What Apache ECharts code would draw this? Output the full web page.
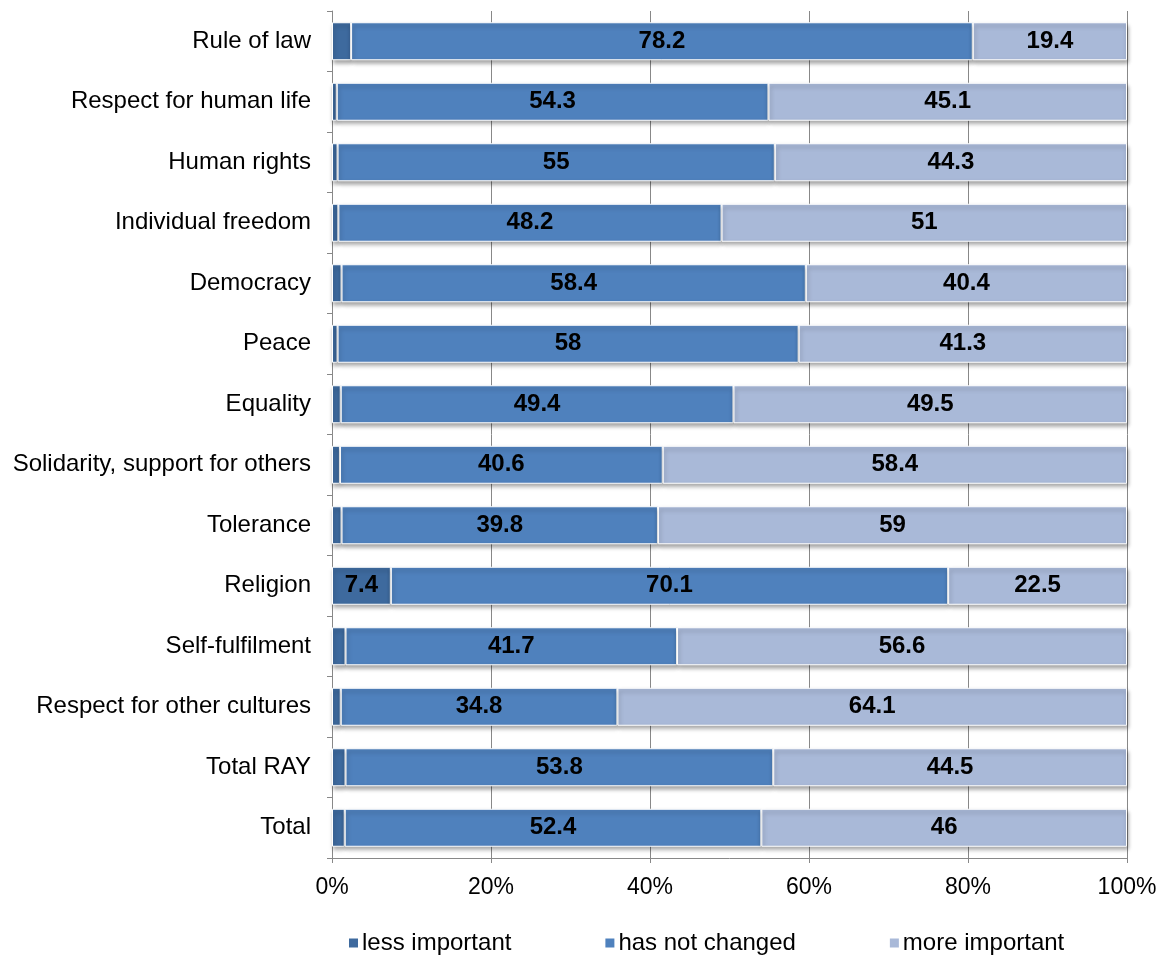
<!DOCTYPE html>
<html>
<head>
<meta charset="utf-8">
<script src="https://cdn.jsdelivr.net/npm/echarts@6/dist/echarts.min.js"></script>
<style>html,body{margin:0;padding:0;background:#fff}#c{width:1165px;height:961px}</style>
</head>
<body>
<div id="c"></div>
<script>
const categories = ["Rule of law","Respect for human life","Human rights","Individual freedom","Democracy","Peace","Equality","Solidarity, support for others","Tolerance","Religion","Self-fulfilment","Respect for other cultures","Total RAY","Total"];
const lessImportant = [2.4,0.6,0.7,0.8,1.2,0.7,1.1,1.0,1.2,7.4,1.7,1.1,1.7,1.6];
const hasNotChanged = [78.2,54.3,55,48.2,58.4,58,49.4,40.6,39.8,70.1,41.7,34.8,53.8,52.4];
const moreImportant = [19.4,45.1,44.3,51,40.4,41.3,49.5,58.4,59,22.5,56.6,64.1,44.5,46];
const xTicks = [0,20,40,60,80,100];

const FONT = '"Liberation Sans", Arial, sans-serif';
const chart = echarts.init(document.getElementById('c'), null, {renderer:'canvas'});
function mk(name, data, color){
  return {
    name, type:'bar', stack:'s', data, barWidth:38,
    itemStyle:{color, borderColor:'#fff', borderWidth:1, shadowColor:'rgba(0,0,0,0.35)', shadowBlur:4, shadowOffsetY:3, shadowOffsetX:1},
    label:{show:true, position:'inside', fontFamily:FONT, fontWeight:'bold', fontSize:24, color:'#000',
      formatter:p => p.value >= 5 ? String(p.value) : ''},
    emphasis:{disabled:true}
  };
}
chart.setOption({
  animation:false,
  grid:{left:332, right:38, top:11, bottom:103, containLabel:false},
  legend:{bottom:1, left:342, itemWidth:11, itemHeight:11, itemGap:92, icon:'rect',
    textStyle:{fontFamily:FONT, fontSize:24, color:'#000', padding:[0,0,0,-2]},
    data:['less important','has not changed','more important']},
  xAxis:{type:'value', min:0, max:100, interval:20,
    axisLine:{show:true, lineStyle:{color:'#888'}},
    axisTick:{show:true, length:5, lineStyle:{color:'#888'}},
    splitLine:{show:true, lineStyle:{color:'#888', width:1}},
    axisLabel:{formatter:v=>v+'%', fontFamily:FONT, fontSize:23, color:'#000', margin:18}},
  yAxis:{type:'category', data:categories, inverse:true,
    axisLine:{show:true, lineStyle:{color:'#888'}},
    axisTick:{show:true, length:5, lineStyle:{color:'#888'}},
    axisLabel:{fontFamily:FONT, fontSize:24, color:'#000', margin:21}},
  series:[
    mk('less important', lessImportant, '#3E6A9E'),
    mk('has not changed', hasNotChanged, '#4F81BD'),
    mk('more important', moreImportant, '#A9B9D8')
  ]
});
</script>
</body>
</html>
